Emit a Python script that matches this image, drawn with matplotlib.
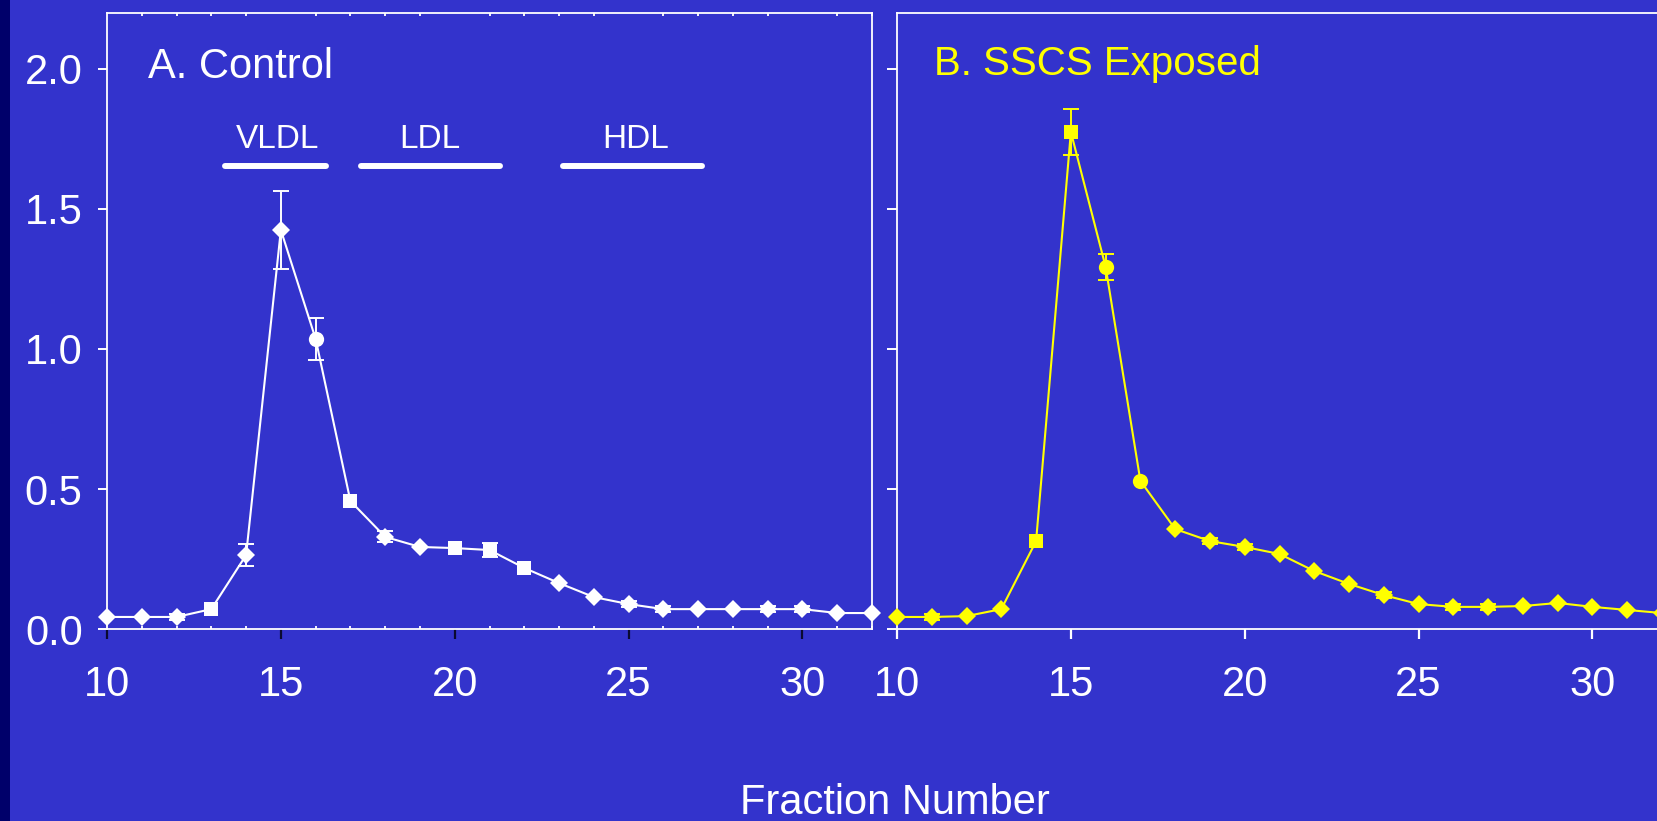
import numpy as np
import matplotlib
matplotlib.use("Agg")
import matplotlib.pyplot as plt
from matplotlib.patches import Rectangle

plt.rcParams['font.family'] = ['Liberation Sans', 'DejaVu Sans']

# Fraction numbers collected from the gradient
fractions = np.arange(10, 33)

# Panel A: control
control_mean = [0.043, 0.043, 0.043, 0.071, 0.264, 1.425, 1.036, 0.457, 0.329, 0.293,
                0.289, 0.282, 0.218, 0.164, 0.114, 0.089, 0.071, 0.071, 0.071, 0.071,
                0.071, 0.057, 0.057]
control_err = [0.0, 0.0, 0.01, 0.0, 0.04, 0.14, 0.075, 0.0, 0.02, 0.0,
               0.0, 0.025, 0.0, 0.0, 0.0, 0.01, 0.01, 0.0, 0.0, 0.01,
               0.01, 0.0, 0.0]

# Panel B: SSCS exposed
exposed_mean = [0.043, 0.043, 0.046, 0.071, 0.314, 1.775, 1.293, 0.529, 0.357, 0.314,
                0.293, 0.268, 0.207, 0.161, 0.121, 0.089, 0.079, 0.079, 0.082, 0.093,
                0.079, 0.068, 0.057]
exposed_err = [0.0, 0.01, 0.0, 0.0, 0.0, 0.082, 0.045, 0.0, 0.0, 0.01,
               0.01, 0.0, 0.0, 0.0, 0.01, 0.0, 0.01, 0.01, 0.0, 0.0,
               0.0, 0.0, 0.0]

# Lipoprotein class regions (fraction ranges) and labels
class_labels = ["VLDL", "LDL", "HDL"]
class_ranges = [(13.4, 16.3), (17.3, 21.3), (23.1, 27.1)]
class_label_x = [14.9, 19.27, 25.2]

x_ticks = [10, 15, 20, 25, 30]
y_ticks = [0.0, 0.5, 1.0, 1.5, 2.0]
y_tick_labels = ["0.0", "0.5", "1.0", "1.5", "2.0"]

# marker shapes per fraction
markers_a = ['D', 'D', 'D', 's', 'D', 'D', 'o', 's', 'D', 'D', 's', 's', 's',
             'D', 'D', 'D', 'D', 'D', 'D', 'D', 'D', 'D', 'D']
markers_b = ['D', 'D', 'D', 'D', 's', 's', 'o', 'o', 'D', 'D', 'D', 'D', 'D',
             'D', 'D', 'D', 'D', 'D', 'D', 'D', 'D', 'D', 'D']

BG = '#3333cc'
STRIP = '#00006a'
WHITE = 'white'
YELLOW = '#ffff00'

W, H = 1657, 821
fig = plt.figure(figsize=(W / 100, H / 100), dpi=100, facecolor=BG)
fig.patches.append(Rectangle((0, 0), 10 / W, 1, transform=fig.transFigure,
                             facecolor=STRIP, edgecolor='none', zorder=0))

ax_l, ax_w = 107 / W, 765 / W
ax_b, ax_h = (H - 629) / H, 616 / H
axA = fig.add_axes([ax_l, ax_b, ax_w, ax_h])
axB = fig.add_axes([897 / W, ax_b, ax_w, ax_h])

TICK_FS = 30


def draw_series(ax, y, err, markers, color):
    y = np.asarray(y)
    err = np.asarray(err)
    ax.plot(fractions, y, color=color, lw=1.5, zorder=3, clip_on=False)
    has_err = err > 0
    ax.errorbar(fractions[has_err], y[has_err], yerr=err[has_err], fmt='none',
                ecolor=color, elinewidth=1.4, capsize=5.5, capthick=1.4,
                zorder=3, clip_on=False)
    mk = np.array(markers)
    sizes = {'D': 9.6, 's': 10.0, 'o': 11.0}
    for m in np.unique(mk):
        sel = mk == m
        ax.plot(fractions[sel], y[sel], linestyle='none', marker=m,
                ms=sizes[m], color=color, markeredgewidth=0, zorder=4,
                clip_on=False)


for ax in (axA, axB):
    ax.set_facecolor(BG)
    ax.set_xlim(10, 32)
    ax.set_ylim(0, 2.2)
    for s in ax.spines.values():
        s.set_color(WHITE)
        s.set_linewidth(1.3)
    ax.set_xticks(x_ticks)
    ax.set_yticks(y_ticks)
    ax.tick_params(axis='y', which='major', direction='out', length=6.5,
                   width=1.4, color=WHITE, labelcolor=WHITE,
                   labelsize=TICK_FS, pad=11)
    ax.tick_params(axis='x', which='major', direction='out', length=7,
                   width=1.6, labelcolor=WHITE, labelsize=TICK_FS, pad=19)

# Panel A axes
axA.set_xticks(np.arange(11, 33), minor=True)
axA.tick_params(axis='x', which='major', color='#0a0a30', top=False)
axA.tick_params(axis='x', which='minor', direction='in', length=2.3,
                width=1.3, color=WHITE, bottom=True, top=True)
axA.set_yticklabels(y_tick_labels)

# Panel B axes
axB.spines['right'].set_visible(False)
axB.tick_params(axis='x', which='major', color=WHITE)
axB.tick_params(axis='y', labelleft=False, length=7)

draw_series(axA, control_mean, control_err, markers_a, WHITE)
draw_series(axB, exposed_mean, exposed_err, markers_b, YELLOW)

# lipoprotein class bars
for lab, (x0, x1), xc in zip(class_labels, class_ranges, class_label_x):
    axA.plot([x0, x1], [1.654, 1.654], color=WHITE, lw=4.3,
             solid_capstyle='round', zorder=3)
    axA.text(xc, 1.718, lab, color=WHITE, fontsize=24, ha='center',
             va='baseline')

axA.text(0.0536, 0.8945, "A. Control", transform=axA.transAxes, color=WHITE,
         fontsize=30, ha='left', va='baseline')
axB.text(0.049, 0.9, "B. SSCS Exposed", transform=axB.transAxes,
         color=YELLOW, fontsize=29, ha='left', va='baseline')

fig.text(895 / W, 7 / H, "Fraction Number", color=WHITE, fontsize=30,
         ha='center', va='baseline')

fig.savefig("out.png", dpi=100, facecolor=BG)
